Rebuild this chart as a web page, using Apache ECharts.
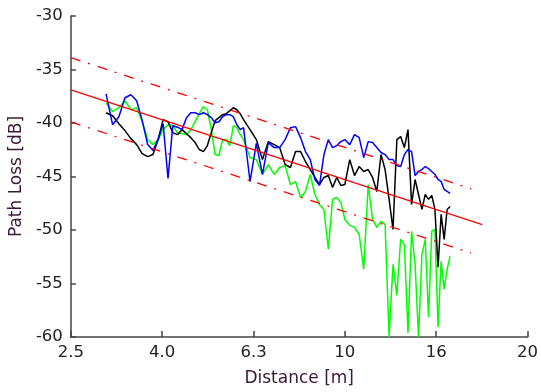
<!DOCTYPE html>
<html><head><meta charset="utf-8">
<script src="https://cdn.jsdelivr.net/npm/echarts@6/dist/echarts.min.js"></script>
<style>html,body{margin:0;padding:0;background:#fff}#c{width:541px;height:392px}</style>
</head><body><div id="c"></div>
<script>
// Distance samples [m]
const distance = [3.0,3.1,3.2,3.3,3.4,3.5,3.6,3.7,3.8,3.9,4.0,4.1,4.2,4.3,4.4,4.5,4.6,4.7,4.8,4.9,5.0,5.1,5.2,5.3,5.4,5.5,5.6,5.7,5.8,5.9,6.0,
  6.2,6.4,6.6,6.8,7.0,7.2,7.4,7.6,7.8,8.0,8.2,8.4,8.6,8.8,9.0,9.2,9.4,9.6,9.8,10.0,
  10.25,10.5,10.75,11.0,11.25,11.5,11.75,12.0,12.25,12.5,12.75,13.0,13.25,13.5,13.75,14.0,14.25,14.5,14.75,15.0,15.25,15.5,15.75,16.0,16.25,16.5,16.75,17.0];
// Path loss [dB]
const blueLoss = [-37.27,-40.16,-39.41,-37.64,-37.36,-37.92,-39.78,-42.02,-42.58,-41.55,-40.06,-45.19,-40.25,-40.39,-40.62,-39.50,-39.04,-39.04,-39.22,-39.04,-39.22,-39.50,-39.97,-39.88,-39.41,-39.22,-39.22,-39.41,-40.16,-40.62,-40.44,
  -45.47,-41.90,-44.81,-41.83,-42.30,-42.30,-41.55,-40.44,-40.34,-41.37,-42.67,-43.42,-45.28,-45.84,-42.95,-41.55,-42.30,-42.11,-41.74,-41.55,
  -42.02,-41.09,-41.37,-43.23,-41.74,-41.83,-42.30,-42.76,-42.95,-43.42,-43.42,-43.98,-44.07,-42.95,-42.48,-42.67,-44.91,-44.53,-44.35,-44.07,-44.26,-44.53,-44.81,-45.28,-45.47,-46.21,-46.40,-46.58];
const blackLoss = [-39.04,-39.32,-40.06,-40.71,-41.46,-42.02,-42.86,-43.14,-42.95,-41.55,-39.69,-39.88,-40.90,-41.09,-40.62,-40.99,-41.37,-41.83,-42.48,-42.67,-42.11,-40.90,-39.78,-39.50,-39.22,-39.13,-38.85,-38.57,-38.76,-39.13,-39.69,
  -40.62,-41.55,-43.42,-41.74,-42.02,-42.30,-43.88,-44.16,-42.67,-42.67,-43.60,-44.35,-45.09,-45.75,-45.09,-44.91,-46.02,-45.09,-45.84,-45.75,
  -43.42,-44.91,-44.07,-44.53,-44.35,-45.09,-46.40,-42.95,-44.35,-47.14,-49.94,-41.55,-41.27,-42.30,-40.62,-47.61,-45.28,-46.68,-48.08,-46.68,-47.14,-46.77,-48.08,-53.48,-48.54,-50.87,-48.08,-47.80];
const greenLoss = [-38.11,-38.94,-38.57,-37.92,-38.76,-38.57,-39.88,-41.55,-42.02,-41.55,-40.62,-40.16,-40.25,-40.90,-40.99,-41.09,-40.62,-39.88,-39.13,-38.48,-38.76,-40.62,-42.95,-43.04,-41.55,-41.55,-42.11,-40.25,-40.44,-41.09,-41.55,
  -43.23,-43.42,-44.81,-43.88,-44.81,-44.16,-43.98,-45.75,-45.47,-46.96,-46.40,-44.81,-46.68,-47.61,-48.08,-51.80,-47.14,-46.96,-47.42,-49.01,
  -49.57,-49.76,-50.40,-53.67,-45.75,-49.01,-49.76,-49.19,-49.47,-60.0,-53.20,-56.09,-50.87,-51.34,-59.63,-50.12,-53.20,-60.0,-52.27,-50.87,-58.14,-50.12,-49.94,-59.07,-52.92,-55.53,-53.67,-52.45];
// Fitted model and +/- bounds
const fitDistance = [2.512, 20];
const fitLoss = [-36.9, -49.5];
const boundDistance = [2.512, 18.9];
const upperLoss = [-33.9, -46.15];
const lowerLoss = [-39.9, -52.15];
// Axis ticks (x axis is logarithmic, evenly spaced ticks)
const xTickDistance = [2.512, 3.981, 6.310, 10, 15.85, 25.12];
const xTickLabels = ['2.5', '4.0', '6.3', '10', '16', '20'];
const yTicks = [-60, -55, -50, -45, -40, -35, -30];

const toDb = d => 10 * Math.log10(d);
const pts = (xs, ys) => xs.map((x, i) => [toDb(x), ys[i]]);
const labelFor = v => {
  for (let i = 0; i < xTickDistance.length; i++) {
    if (Math.abs(toDb(xTickDistance[i]) - v) < 0.05) return xTickLabels[i];
  }
  return '';
};

const chart = echarts.init(document.getElementById('c'), null, {renderer: 'canvas'});
const font = 'DejaVu Sans';
const axisCol = '#444';
const measured = (ys, color, z) => ({
  type: 'line', data: pts(distance, ys), showSymbol: false,
  lineStyle: {color: color, width: 1.5}, z: z
});
chart.setOption({
  animation: false,
  backgroundColor: '#fff',
  grid: {left: 69, right: 11, top: 16, bottom: 54, containLabel: false},
  xAxis: {
    type: 'value', min: 4, max: 14, interval: 2,
    name: 'Distance [m]', nameLocation: 'middle', nameGap: 33,
    nameTextStyle: {fontFamily: font, fontSize: 17, color: '#3a1838'},
    axisLine: {lineStyle: {color: axisCol, width: 1.5}},
    axisTick: {inside: true, length: 6, lineStyle: {color: axisCol, width: 1.5}},
    axisLabel: {fontFamily: font, fontSize: 16.5, color: '#222', margin: 7, formatter: v => labelFor(v)},
    splitLine: {show: false}
  },
  yAxis: {
    type: 'value', min: yTicks[0], max: yTicks[yTicks.length - 1], interval: 5,
    name: 'Path Loss [dB]', nameLocation: 'middle', nameGap: 44, nameRotate: 90,
    nameTextStyle: {fontFamily: font, fontSize: 17, color: '#3a1838'},
    axisLine: {show: true, lineStyle: {color: axisCol, width: 1.5}},
    axisTick: {show: true, inside: true, length: 5, lineStyle: {color: axisCol, width: 1.5}},
    axisLabel: {fontFamily: font, fontSize: 16.5, color: '#222', margin: 8},
    splitLine: {show: false}
  },
  series: [
    measured(greenLoss, '#00ff00', 2),
    measured(blackLoss, '#000000', 3),
    measured(blueLoss, '#0000ff', 4),
    {type: 'line', data: pts(fitDistance, fitLoss), showSymbol: false, lineStyle: {color: '#ff0000', width: 1.3}, z: 5},
    {type: 'line', data: pts(boundDistance, upperLoss), showSymbol: false, lineStyle: {color: '#ff0000', width: 1.3, type: [10, 8, 2, 8]}, z: 5},
    {type: 'line', data: pts(boundDistance, lowerLoss), showSymbol: false, lineStyle: {color: '#ff0000', width: 1.3, type: [10, 8, 2, 8]}, z: 5}
  ]
});
</script></body></html>
